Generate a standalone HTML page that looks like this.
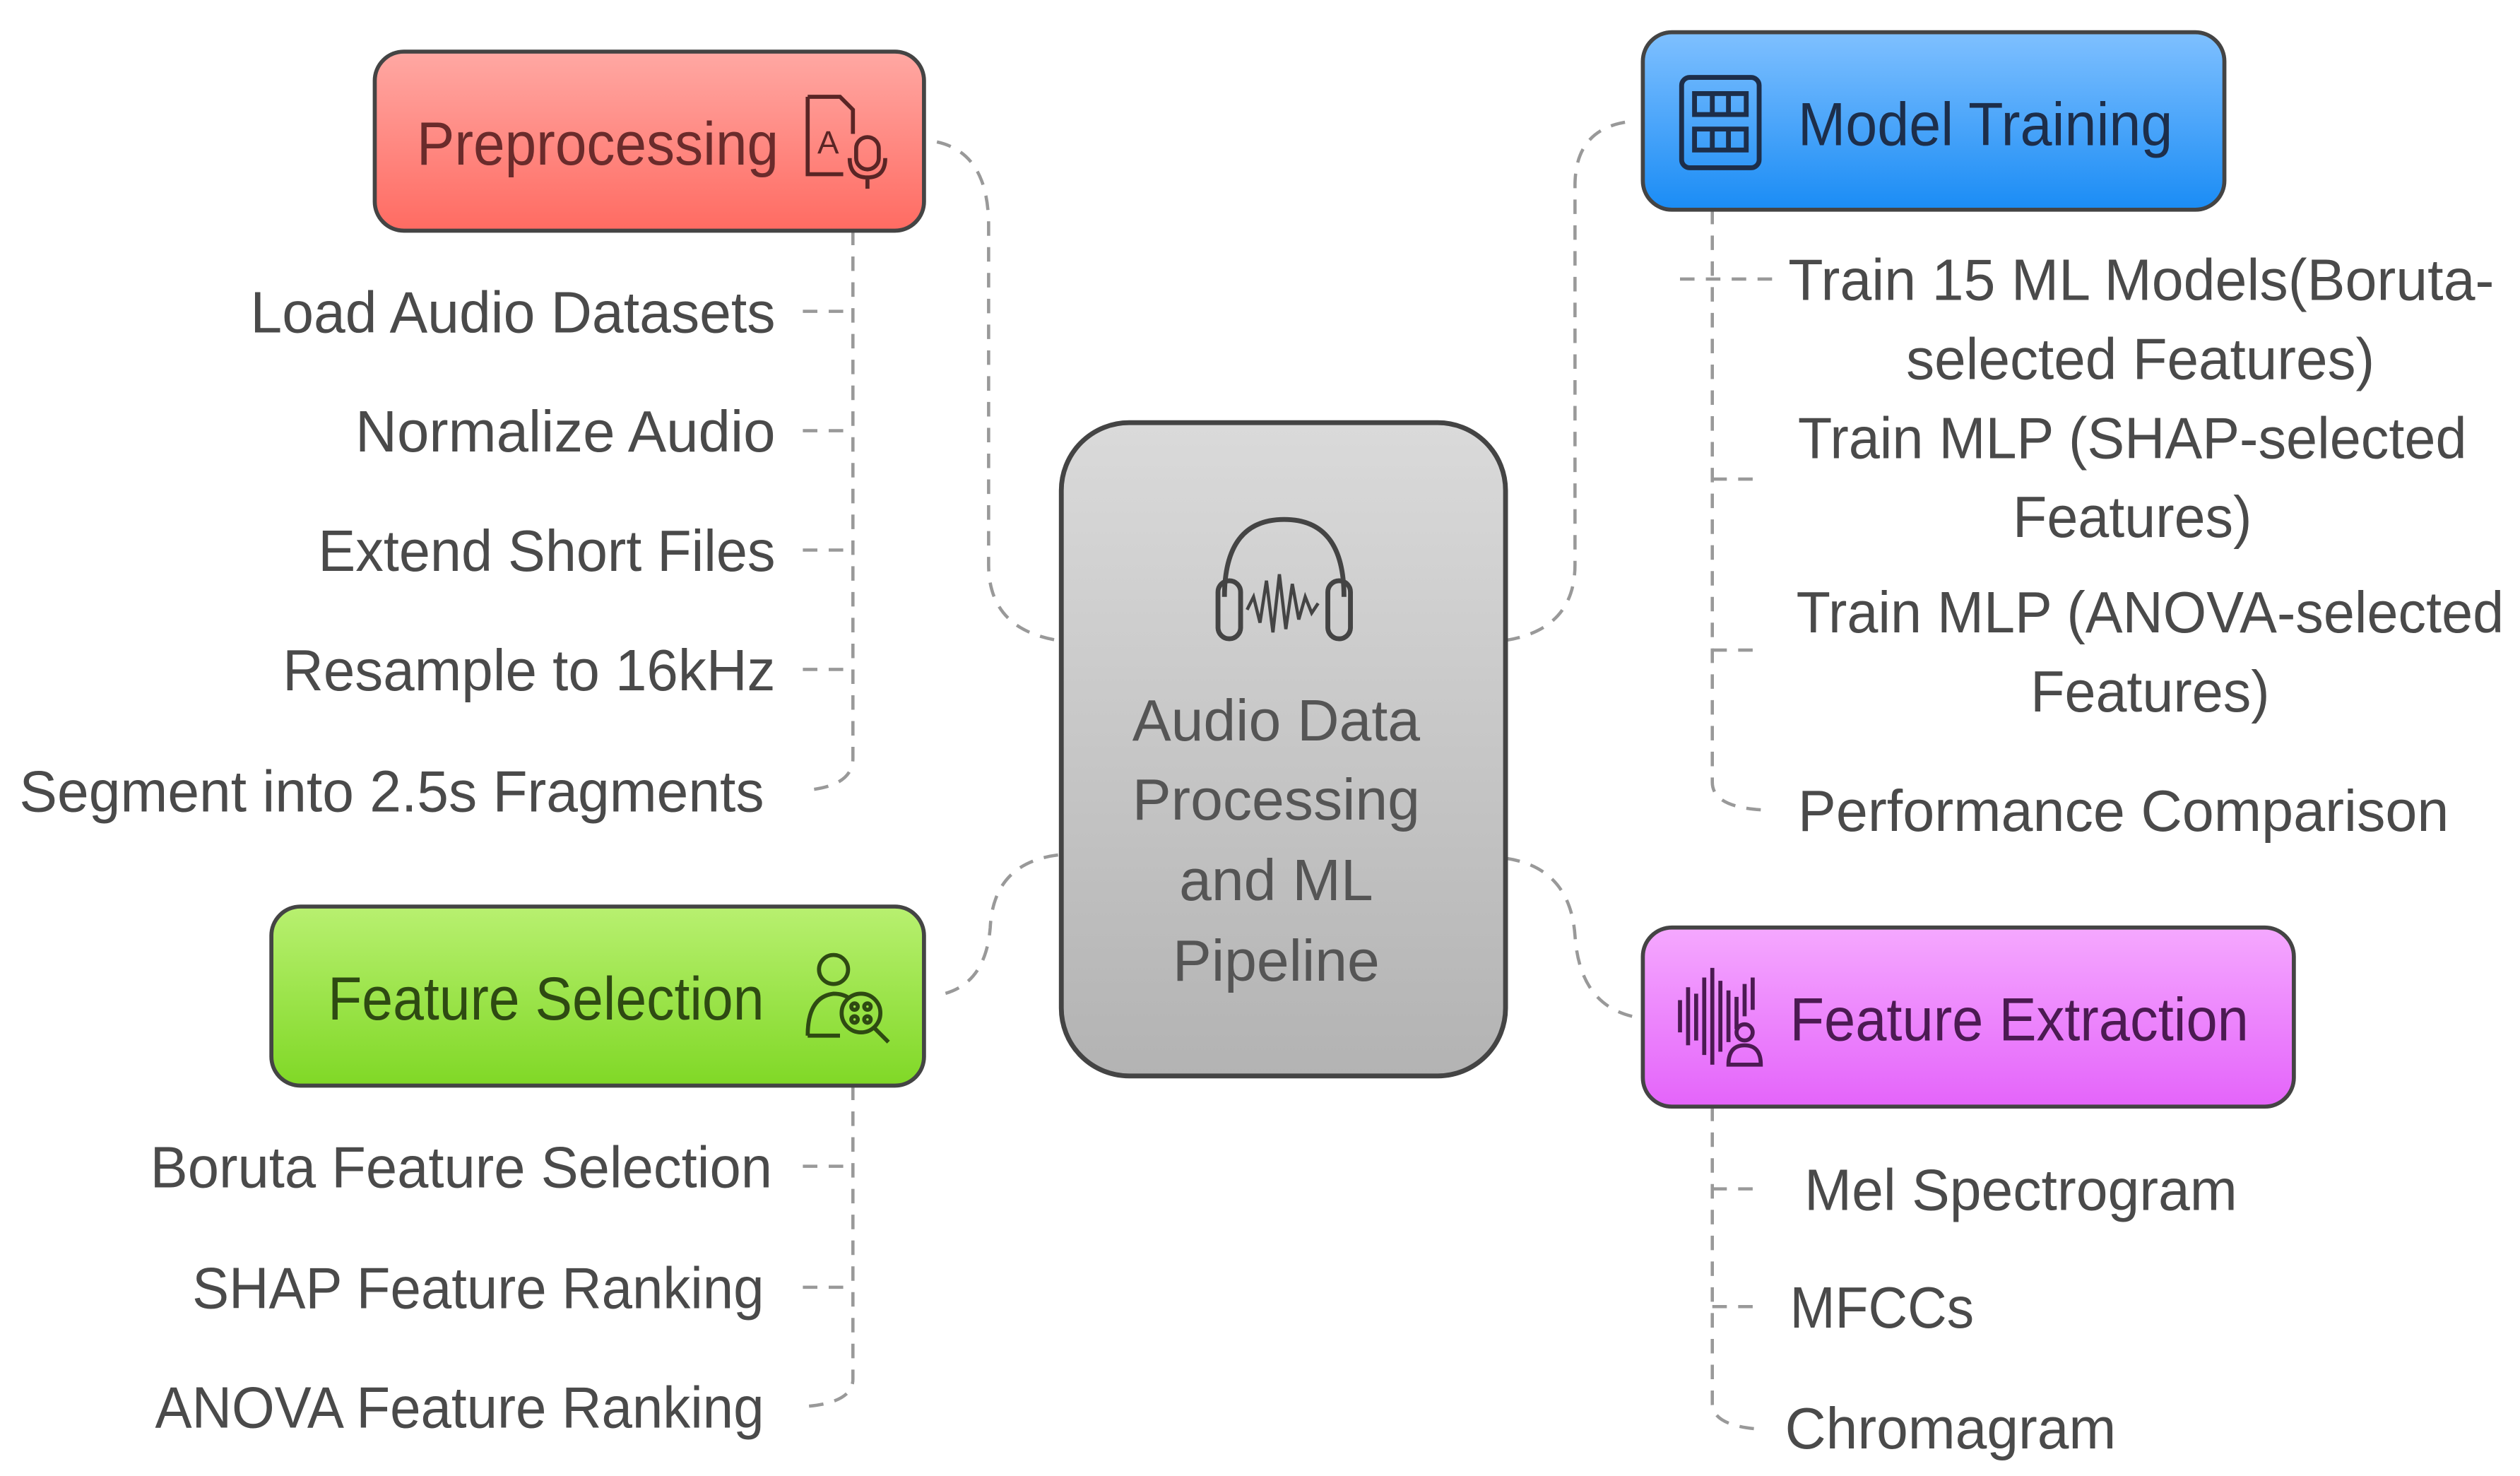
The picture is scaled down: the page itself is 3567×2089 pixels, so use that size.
<!DOCTYPE html>
<html><head><meta charset="utf-8"><style>
html,body{margin:0;padding:0;background:#fff;}
svg{display:block;}
text{font-family:"Liberation Sans",sans-serif;}
</style></head><body>
<svg width="3567" height="2089" viewBox="0 0 1560 915" preserveAspectRatio="none" xmlns="http://www.w3.org/2000/svg">
<defs>
<linearGradient id="gr" x1="0" y1="0" x2="0" y2="1"><stop offset="0" stop-color="#ffa8a3"/><stop offset="1" stop-color="#ff6b62"/></linearGradient>
<linearGradient id="gb" x1="0" y1="0" x2="0" y2="1"><stop offset="0" stop-color="#7fc0ff"/><stop offset="1" stop-color="#1a8cf5"/></linearGradient>
<linearGradient id="gg" x1="0" y1="0" x2="0" y2="1"><stop offset="0" stop-color="#b8f070"/><stop offset="1" stop-color="#80d826"/></linearGradient>
<linearGradient id="gp" x1="0" y1="0" x2="0" y2="1"><stop offset="0" stop-color="#f5a8ff"/><stop offset="1" stop-color="#e464fa"/></linearGradient>
<linearGradient id="gc" x1="0" y1="0" x2="0" y2="1"><stop offset="0" stop-color="#dadada"/><stop offset="1" stop-color="#b3b3b3"/></linearGradient>
</defs>
<g fill="none" stroke="#999" stroke-width="2" stroke-dasharray="9,7">
<!-- center connectors -->
<path d="M580 88 Q612 95 612 140 L612 350 Q612 390 655 397"/>
<path d="M932 397 Q975 390 975 350 L975 115 Q975 78 1012 75"/>
<path d="M655 530 Q615 535 613 575 Q610 612 580 617"/>
<path d="M932 532 Q972 538 975 580 Q978 625 1015 631"/>
<!-- preprocessing tree -->
<path d="M528 143 L528 470 Q528 488 497 490"/>
<path d="M497 193 L528 193 M497 267 L528 267 M497 341 L528 341 M497 415 L528 415"/>
<!-- feature selection tree -->
<path d="M528 673 L528 855 Q528 870 497 872"/>
<path d="M497 723 L528 723 M497 798 L528 798"/>
<!-- model training tree -->
<path d="M1060 130 L1060 485 Q1060 500 1090 502"/>
<path d="M1040 173 L1100 173 M1060 297 L1092 297 M1060 403 L1092 403"/>
<!-- feature extraction tree -->
<path d="M1060 686 L1060 870 Q1060 884 1090 886"/>
<path d="M1060 737 L1092 737 M1060 810 L1092 810"/>
</g>
<!-- boxes -->
<rect x="232" y="32" width="340" height="111" rx="18" fill="url(#gr)" stroke="#444" stroke-width="2.5"/>
<rect x="1017" y="20" width="360" height="110" rx="18" fill="url(#gb)" stroke="#444" stroke-width="2.5"/>
<rect x="168" y="562" width="404" height="111" rx="18" fill="url(#gg)" stroke="#444" stroke-width="2.5"/>
<rect x="1017" y="575" width="403" height="111" rx="18" fill="url(#gp)" stroke="#444" stroke-width="2.5"/>
<rect x="657" y="262" width="275" height="405" rx="42" fill="url(#gc)" stroke="#444" stroke-width="3"/>
<!-- box titles -->
<text x="258" y="102" font-size="38" fill="#6a2b2b" textLength="224" lengthAdjust="spacingAndGlyphs">Preprocessing</text>
<text x="1113" y="90" font-size="38" fill="#1d2e4a" textLength="232" lengthAdjust="spacingAndGlyphs">Model Training</text>
<text x="203" y="632" font-size="38" fill="#2e4a12" textLength="270" lengthAdjust="spacingAndGlyphs">Feature Selection</text>
<text x="1108" y="645" font-size="38" fill="#4b1a52" textLength="284" lengthAdjust="spacingAndGlyphs">Feature Extraction</text>
<!-- center text -->
<g font-size="36" fill="#555" text-anchor="middle">
<text x="790" y="459">Audio Data</text>
<text x="790" y="508">Processing</text>
<text x="790" y="558">and ML</text>
<text x="790" y="608">Pipeline</text>
</g>
<!-- items -->
<g font-size="36" fill="#4a4a4a">
<text x="480" y="206" text-anchor="end" textLength="325" lengthAdjust="spacingAndGlyphs">Load Audio Datasets</text>
<text x="480" y="280" text-anchor="end" textLength="260" lengthAdjust="spacingAndGlyphs">Normalize Audio</text>
<text x="480" y="354" text-anchor="end" textLength="283" lengthAdjust="spacingAndGlyphs">Extend Short Files</text>
<text x="480" y="428" text-anchor="end" textLength="305" lengthAdjust="spacingAndGlyphs">Resample to 16kHz</text>
<text x="473" y="503" text-anchor="end" textLength="461" lengthAdjust="spacingAndGlyphs">Segment into 2.5s Fragments</text>
<text x="478" y="736" text-anchor="end" textLength="385" lengthAdjust="spacingAndGlyphs">Boruta Feature Selection</text>
<text x="473" y="811" text-anchor="end" textLength="354" lengthAdjust="spacingAndGlyphs">SHAP Feature Ranking</text>
<text x="473" y="885" text-anchor="end" textLength="377" lengthAdjust="spacingAndGlyphs">ANOVA Feature Ranking</text>
<text x="1107" y="186" textLength="437" lengthAdjust="spacingAndGlyphs">Train 15 ML Models(Boruta-</text>
<text x="1180" y="235" textLength="290" lengthAdjust="spacingAndGlyphs">selected Features)</text>
<text x="1113" y="284" textLength="414" lengthAdjust="spacingAndGlyphs">Train MLP (SHAP-selected</text>
<text x="1246" y="333" textLength="148" lengthAdjust="spacingAndGlyphs">Features)</text>
<text x="1112" y="392" textLength="438" lengthAdjust="spacingAndGlyphs">Train MLP (ANOVA-selected</text>
<text x="1257" y="441" textLength="148" lengthAdjust="spacingAndGlyphs">Features)</text>
<text x="1113" y="515" textLength="403" lengthAdjust="spacingAndGlyphs">Performance Comparison</text>
<text x="1117" y="750" textLength="268" lengthAdjust="spacingAndGlyphs">Mel Spectrogram</text>
<text x="1108" y="823" textLength="114" lengthAdjust="spacingAndGlyphs">MFCCs</text>
<text x="1105" y="898" textLength="205" lengthAdjust="spacingAndGlyphs">Chromagram</text>
</g>
<!-- icons -->
<g fill="none" stroke="#5a2525" stroke-width="2.5">
<path d="M500 60 L520 60 L528 68 L528 83 M500 60 L500 108 L522 108"/>
<text x="506" y="95" font-size="20" fill="#5a2525" stroke="none">A</text>
<rect x="530" y="85" width="14" height="20" rx="7"/>
<path d="M526 98 Q526 110 537 110 Q548 110 548 98 M537 110 L537 117"/>
</g>
<g fill="none" stroke="#1d2e4a" stroke-width="3">
<rect x="1041" y="48" width="48" height="56" rx="5"/>
<rect x="1049" y="58" width="32" height="13"/><rect x="1049" y="80" width="32" height="13"/>
<path d="M1060 58 V71 M1070 58 V71 M1060 80 V93 M1070 80 V93"/>
</g>
<g fill="none" stroke="#2e4a12" stroke-width="2.5">
<circle cx="516" cy="601" r="9"/>
<path d="M500 642 Q500 618 516 616 Q522 616 526 619 M500 642 L520 642"/>
<circle cx="533" cy="628" r="12"/><path d="M541 637 L550 646"/>
<circle cx="529" cy="624" r="2"/><circle cx="537" cy="624" r="2"/><circle cx="529" cy="632" r="2"/><circle cx="537" cy="632" r="2"/>
</g>
<g fill="none" stroke="#4b1a52" stroke-width="2.5">
<path d="M1040 620 V640 M1045 612 V648 M1050 616 V645 M1055 606 V654 M1060 600 V660 M1065 608 V652 M1070 614 V646 M1075 618 V638 M1080 610 V630 M1085 606 V626"/>
<circle cx="1080" cy="640" r="5"/><path d="M1070 660 Q1070 648 1080 648 Q1090 648 1090 660 Z"/>
</g>
<g fill="none" stroke="#444" stroke-width="3">
<path d="M758 370 Q758 322 795 322 Q832 322 832 370"/>
<rect x="754" y="360" width="14" height="36" rx="7"/><rect x="822" y="360" width="14" height="36" rx="7"/>
<path d="M772 378 L776 370 L780 386 L784 360 L788 392 L792 356 L796 390 L800 362 L804 384 L808 370 L812 380 L816 374" stroke-width="2"/>
</g>
</svg>
</body></html>
